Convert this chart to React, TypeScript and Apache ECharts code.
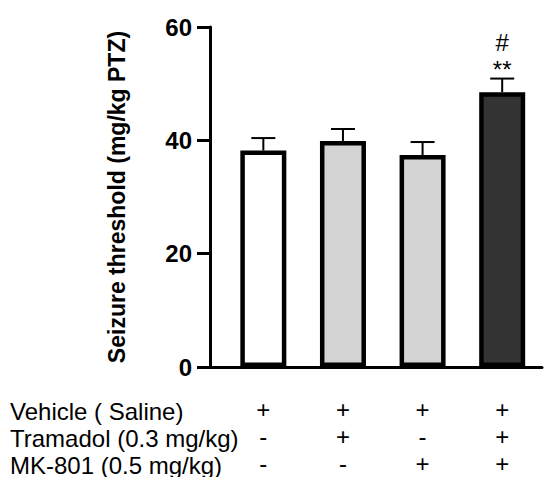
import React, { useEffect, useRef } from "react";
import * as echarts from "echarts";

const groups = ["Vehicle", "Tramadol", "MK-801", "Tramadol + MK-801"];
const xPositions = [1, 2, 3, 4];
const means = [38.2, 39.9, 37.4, 48.5];
const sems = [2.2, 2.1, 2.3, 2.4];
const barColors = ["#ffffff", "#d4d4d4", "#d4d4d4", "#333333"];
const annotations = [["", ""], ["", ""], ["", ""], ["#", "**"]];
const yTicks = [0, 20, 40, 60];
const rowLabels = ["Vehicle ( Saline)", "Tramadol (0.3 mg/kg)", "MK-801 (0.5 mg/kg)"];
const rowSigns = [
  ["+", "+", "+", "+"],
  ["-", "+", "-", "+"],
  ["-", "-", "+", "+"],
];
const yTitle = "Seizure threshold (mg/kg PTZ)";

const FONT = "'Liberation Sans', Arial, sans-serif";

export default function App() {
  const ref = useRef<HTMLDivElement>(null);
  useEffect(() => {
    if (!ref.current) return;
    const chart = echarts.init(ref.current, null, { renderer: "svg" });
    const option: any = {
      animation: false,
      backgroundColor: "#ffffff",
      grid: { left: 210, top: 27, width: 332, height: 345 },
      xAxis: {
        type: "value",
        min: 0.33,
        max: 4.5,
        splitLine: { show: false },
        axisTick: { show: false },
        axisLine: { show: true, lineStyle: { color: "#000", width: 3 } },
        axisLabel: {
          customValues: xPositions,
          margin: 29,
          color: "#000",
          fontFamily: FONT,
          fontSize: 24,
          lineHeight: 27,
          formatter: (v: number) => {
            const i = xPositions.indexOf(Math.round(v));
            if (i < 0) return "";
            return rowSigns.map((r) => r[i]).join("\n");
          },
        },
      },
      yAxis: {
        type: "value",
        min: 0,
        max: 60,
        interval: 20,
        name: yTitle,
        nameLocation: "middle",
        nameGap: 82,
        nameTextStyle: { color: "#000", fontFamily: FONT, fontSize: 23, fontWeight: "bold" },
        splitLine: { show: false },
        axisLine: { show: true, lineStyle: { color: "#000", width: 3 } },
        axisTick: { show: true, length: 13, lineStyle: { color: "#000", width: 3 } },
        axisLabel: {
          color: "#000",
          fontFamily: FONT,
          fontSize: 24,
          fontWeight: "bold",
          margin: 18,
          customValues: yTicks,
        },
      },
      series: [
        {
          type: "bar",
          barWidth: 46,
          data: xPositions.map((x, i) => ({
            value: [x, means[i]],
            name: groups[i],
            itemStyle: { color: barColors[i], borderColor: "#000", borderWidth: 4.5 },
          })),
          z: 2,
        },
        {
          type: "custom",
          z: 3,
          clip: false,
          data: xPositions.map((x, i) => [x, means[i], sems[i]]),
          renderItem: (params: any, api: any) => {
            const x = api.value(0);
            const m = api.value(1);
            const e = api.value(2);
            const base = api.coord([x, m]);
            const top = api.coord([x, m + e]);
            const ann = annotations[params.dataIndex];
            const children: any[] = [
              { type: "line", shape: { x1: base[0], y1: base[1], x2: top[0], y2: top[1] }, style: { stroke: "#000", lineWidth: 2 } },
              { type: "line", shape: { x1: top[0] - 12, y1: top[1], x2: top[0] + 12, y2: top[1] }, style: { stroke: "#000", lineWidth: 2 } },
            ];
            if (ann[1]) {
              children.push({
                type: "text",
                style: { text: ann[1], x: top[0], y: top[1] - 9, align: "center", verticalAlign: "middle", fill: "#000", font: `24px ${FONT}` },
              });
            }
            if (ann[0]) {
              children.push({
                type: "text",
                style: { text: ann[0], x: top[0], y: top[1] - 36, align: "center", verticalAlign: "middle", fill: "#000", font: `24px ${FONT}` },
              });
            }
            return { type: "group", children };
          },
        },
      ],
      graphic: rowLabels.map((t, i) => ({
        type: "text",
        x: 10,
        y: 411 + i * 27,
        style: { text: t, fill: "#000", font: `24px ${FONT}`, verticalAlign: "middle" },
      })),
    };
    chart.setOption(option);
    return () => chart.dispose();
  }, []);
  return <div ref={ref} style={{ position: "fixed", left: 0, top: 0, width: 547, height: 477 }} />;
}
